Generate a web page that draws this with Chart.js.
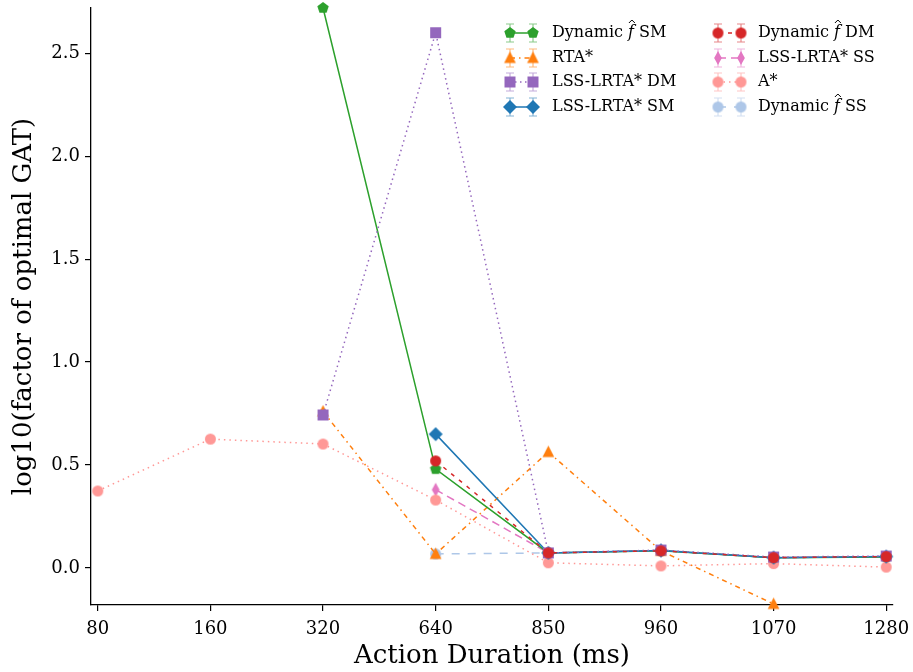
<!DOCTYPE html>
<html>
<head>
<meta charset="utf-8">
<script src="https://cdn.jsdelivr.net/npm/chart.js@4.4.1/dist/chart.umd.min.js"></script>
<style>
  html, body { margin: 0; padding: 0; background: #fff; }
  #wrap { width: 913px; height: 672px; }
</style>
</head>
<body>
<div id="wrap"><canvas id="gatChart"></canvas></div>
<script>
// x categories (action duration in ms)
const durations = ["80", "160", "320", "640", "850", "960", "1070", "1280"];
// y tick values
const yTicks = [0, 0.5, 1.0, 1.5, 2.0, 2.5];

// log10(factor of optimal GAT), null = no point
const dynSM = [null, null, 2.72, 0.48, 0.073, 0.083, 0.049, 0.053];
const rtaStar = [null, null, 0.76, 0.068, 0.563, 0.083, -0.175, null];
const lssDM = [null, null, 0.743, 2.60, 0.073, 0.087, 0.053, 0.058];
const lssSM = [null, null, null, 0.65, 0.073, 0.085, 0.05, 0.055];
const dynDM = [null, null, null, 0.52, 0.073, 0.083, 0.05, 0.055];
const lssSS = [null, null, null, 0.38, 0.073, 0.085, 0.05, 0.055];
const aStar = [0.374, 0.626, 0.602, 0.33, 0.025, 0.01, 0.021, 0.004];
const dynSS = [null, null, null, 0.068, 0.073, 0.085, 0.05, 0.055];

const FONT = "'DejaVu Serif', serif";

// draw a filled marker onto a little canvas so Chart.js can use it as pointStyle
function makeMarker(shape, color, r) {
  const s = Math.ceil(r * 2 + 4);
  const c = document.createElement("canvas");
  c.width = s;
  c.height = s;
  const g = c.getContext("2d");
  const cx = s / 2, cy = s / 2;
  g.fillStyle = color;
  g.beginPath();
  if (shape === "circle") {
    g.arc(cx, cy, r, 0, Math.PI * 2);
  } else if (shape === "square") {
    g.rect(cx - r, cy - r, r * 2, r * 2);
  } else if (shape === "diamond") {
    g.moveTo(cx, cy - r); g.lineTo(cx + r, cy); g.lineTo(cx, cy + r); g.lineTo(cx - r, cy);
  } else if (shape === "thin") {
    g.moveTo(cx, cy - r); g.lineTo(cx + r * 0.55, cy); g.lineTo(cx, cy + r); g.lineTo(cx - r * 0.55, cy);
  } else if (shape === "triangle") {
    g.moveTo(cx, cy - r); g.lineTo(cx + r * 0.9, cy + r * 0.75); g.lineTo(cx - r * 0.9, cy + r * 0.75);
  } else if (shape === "pentagon") {
    for (let k = 0; k < 5; k++) {
      const a = -Math.PI / 2 + k * 2 * Math.PI / 5;
      const px = cx + r * Math.cos(a), py = cy + r * Math.sin(a);
      if (k === 0) g.moveTo(px, py); else g.lineTo(px, py);
    }
  }
  g.closePath();
  g.fill();
  return c;
}

// z: higher is drawn on top
const series = [
  { label: "Dynamic f\u0302 SM", values: dynSM, color: "#2ca02c", dash: [], z: 5, marker: makeMarker("pentagon", "#2ca02c", 6) },
  { label: "RTA*", values: rtaStar, color: "#ff7f0e", dash: [5, 4, 1.5, 4], z: 4, marker: makeMarker("triangle", "#ff7f0e", 6.5) },
  { label: "LSS-LRTA* DM", values: lssDM, color: "#9467bd", dash: [1.5, 3.5], z: 7, marker: makeMarker("square", "#9467bd", 5.5) },
  { label: "LSS-LRTA* SM", values: lssSM, color: "#1f77b4", dash: [], z: 6, marker: makeMarker("diamond", "#1f77b4", 7) },
  { label: "Dynamic f\u0302 DM", values: dynDM, color: "#d62728", dash: [4, 6], z: 8, marker: makeMarker("circle", "#d62728", 5.5) },
  { label: "LSS-LRTA* SS", values: lssSS, color: "#e377c2", dash: [8, 5], z: 2, marker: makeMarker("thin", "#e377c2", 7) },
  { label: "A*", values: aStar, color: "#ff9896", dash: [1.5, 4], z: 3, marker: makeMarker("circle", "#ff9896", 5.5) },
  { label: "Dynamic f\u0302 SS", values: dynSS, color: "#aec7e8", dash: [8, 8], z: 1, marker: makeMarker("circle", "#aec7e8", 5.5) }
];

const datasets = series.map((s) => ({
  label: s.label,
  data: s.values.map((v, j) => ({ x: j, y: v })).filter(p => p.y !== null),
  borderColor: s.color,
  backgroundColor: s.color,
  borderWidth: 1.5,
  borderDash: s.dash,
  pointStyle: s.marker,
  pointRadius: 6,
  pointHoverRadius: 6,
  tension: 0,
  clip: false,
  order: 10 - s.z
}));

// legend drawn by hand: line + two markers with error-bar caps
const legendPlugin = {
  id: "handLegend",
  afterDraw(chart) {
    const ctx = chart.ctx;
    const cols = [{ m1: 510, m2: 533, tx: 552 }, { m1: 718, m2: 741, tx: 758 }];
    const rows = [33, 58, 82, 107];
    ctx.save();
    series.forEach((s, i) => {
      const col = cols[Math.floor(i / 4)];
      const y = rows[i % 4];
      // connecting line
      ctx.strokeStyle = s.color;
      ctx.lineWidth = 1.5;
      ctx.setLineDash(s.dash);
      ctx.beginPath();
      ctx.moveTo(col.m1, y);
      ctx.lineTo(col.m2, y);
      ctx.stroke();
      ctx.setLineDash([]);
      [col.m1, col.m2].forEach(mx => {
        ctx.globalAlpha = 0.55;
        ctx.lineWidth = 1.2;
        ctx.beginPath();
        ctx.moveTo(mx, y - 9); ctx.lineTo(mx, y + 9);
        ctx.moveTo(mx - 4, y - 9); ctx.lineTo(mx + 4, y - 9);
        ctx.moveTo(mx - 4, y + 9); ctx.lineTo(mx + 4, y + 9);
        ctx.stroke();
        ctx.globalAlpha = 1;
        ctx.drawImage(s.marker, mx - s.marker.width / 2, y - s.marker.height / 2);
      });
      // label text, italic f with a hand-drawn hat
      ctx.fillStyle = "#000";
      ctx.strokeStyle = "#000";
      ctx.textBaseline = "middle";
      ctx.textAlign = "left";
      const parts = s.label.split("f\u0302");
      let x = col.tx;
      ctx.font = "16px " + FONT;
      ctx.fillText(parts[0], x, y);
      if (parts.length > 1) {
        x += ctx.measureText(parts[0]).width;
        ctx.font = "italic 16px " + FONT;
        ctx.fillText("f", x, y);
        const fw = ctx.measureText("f").width;
        const hx = x + fw * 0.65, hy = y - 13;
        ctx.lineWidth = 1;
        ctx.beginPath();
        ctx.moveTo(hx - 3, hy + 3);
        ctx.lineTo(hx, hy);
        ctx.lineTo(hx + 3, hy + 3);
        ctx.stroke();
        x += fw;
        ctx.font = "16px " + FONT;
        ctx.fillText(parts[1], x, y);
      }
    });
    ctx.restore();
  }
};

const ctx = document.getElementById("gatChart").getContext("2d");
new Chart(ctx, {
  type: "line",
  data: { datasets: datasets },
  options: {
    responsive: true,
    maintainAspectRatio: false,
    animation: false,
    layout: { padding: { top: 8, right: 20, left: 0, bottom: 0 } },
    plugins: {
      legend: { display: false },
      tooltip: { enabled: false }
    },
    scales: {
      x: {
        type: "linear",
        min: -0.06,
        max: 7.06,
        afterBuildTicks: (scale) => { scale.ticks = durations.map((d, i) => ({ value: i })); },
        afterFit: (scale) => {
          scale.height = 67;
          scale.paddingLeft = 0;
          scale.paddingRight = 0;
        },
        ticks: {
          callback: (v) => durations[v],
          font: { family: FONT, size: 18 },
          color: "#000",
          padding: 8,
          maxRotation: 0,
          autoSkip: false
        },
        grid: { drawOnChartArea: false, drawTicks: true, tickLength: 6, color: "#000", lineWidth: 1.2 },
        border: { display: true, color: "#000", width: 1.3 },
        title: {
          display: true,
          text: "Action Duration (ms)",
          font: { family: FONT, size: 26 },
          color: "#000",
          padding: { top: 0, bottom: 0 }
        }
      },
      y: {
        min: -0.18,
        max: 2.72,
        afterBuildTicks: (scale) => { scale.ticks = yTicks.map(v => ({ value: v })); },
        afterFit: (scale) => {
          scale.width = 91;
          scale.paddingTop = 0;
          scale.paddingBottom = 0;
        },
        ticks: {
          callback: (v) => v.toFixed(1),
          font: { family: FONT, size: 18 },
          color: "#000",
          padding: 5
        },
        grid: { drawOnChartArea: false, drawTicks: true, tickLength: 6, color: "#000", lineWidth: 1.2 },
        border: { display: true, color: "#000", width: 1.3 },
        title: {
          display: true,
          text: "log10(factor of optimal GAT)",
          font: { family: FONT, size: 26 },
          color: "#000",
          padding: { top: 9, bottom: 0 }
        }
      }
    }
  },
  plugins: [legendPlugin]
});
</script>
</body>
</html>
